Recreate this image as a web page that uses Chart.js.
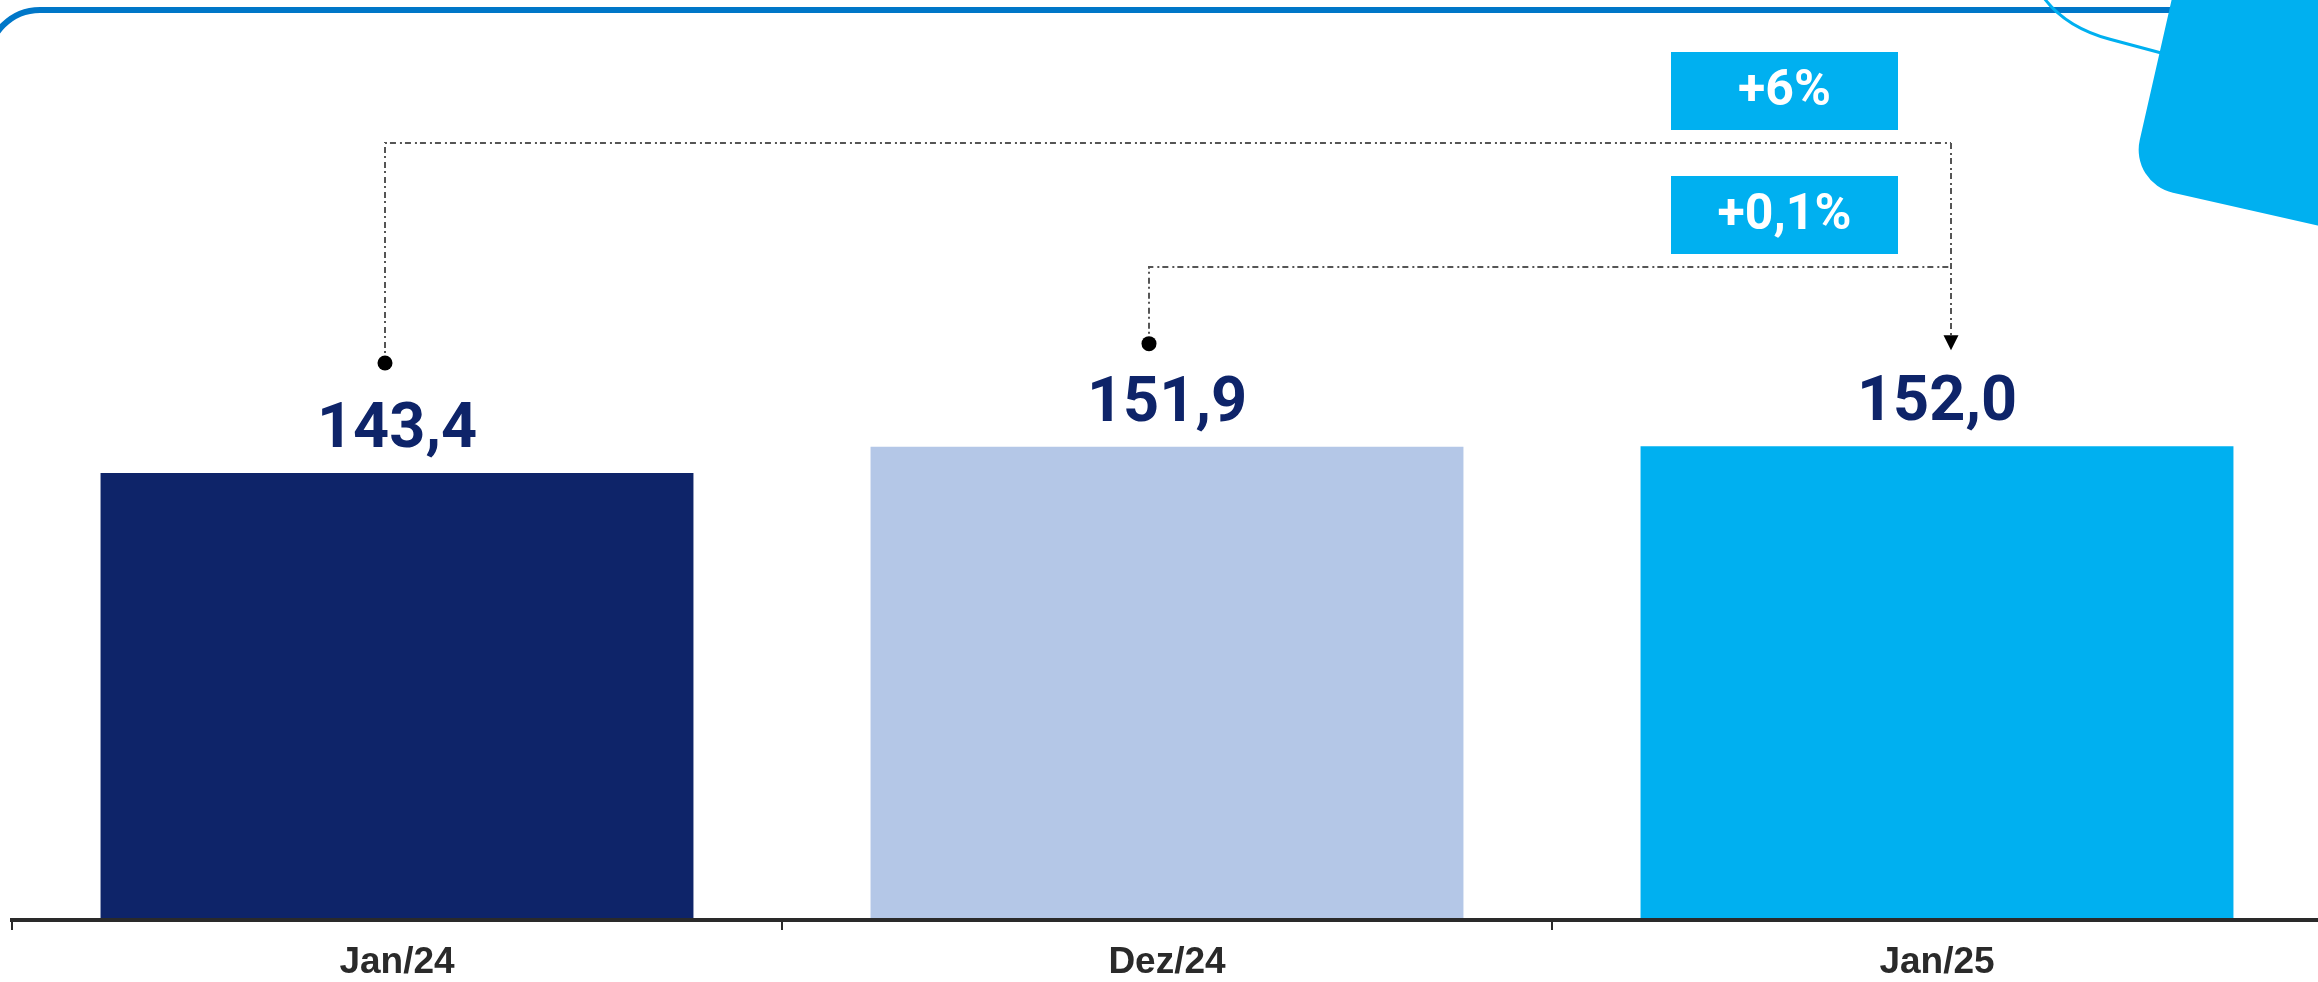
<!DOCTYPE html>
<html><head><meta charset="utf-8">
<script src="https://cdn.jsdelivr.net/npm/chart.js@4.4.1/dist/chart.umd.min.js"></script>
<style>
html,body{margin:0;padding:0;background:#fff;overflow:hidden;width:2318px;height:982px}
#wrap{position:relative;width:2322px;height:982px}
</style></head>
<body><div id="wrap"><canvas id="c"></canvas></div>
<script>
const categories = ['Jan/24', 'Dez/24', 'Jan/25'];
const values = [143.4, 151.9, 152.0];
const barColors = ['#0E2469', '#B4C7E7', '#00B0F0'];
const changeLabels = ['+6%', '+0,1%'];
const comparisonFrom = [0, 1];
const comparisonTo = 2;

const fmt = v => v.toFixed(1).replace('.', ',');

const deco = {
  id: 'deco',
  afterDraw(chart) {
    const ctx = chart.ctx;
    const meta = chart.getDatasetMeta(0);
    const bars = meta.data;
    ctx.save();

    // top frame line with rounded corner
    ctx.strokeStyle = '#0077C8';
    ctx.lineWidth = 6;
    ctx.beginPath();
    ctx.moveTo(-12, 120);
    ctx.arcTo(-12, 10, 40, 10, 52);
    ctx.lineTo(2300, 10);
    ctx.stroke();

    // thin cyan curve
    ctx.strokeStyle = '#00B0F0';
    ctx.lineWidth = 3;
    ctx.beginPath();
    ctx.moveTo(2044, -2);
    ctx.quadraticCurveTo(2066, 27.5, 2110, 39.3);
    ctx.lineTo(2180, 58);
    ctx.stroke();

    // rotated rounded shape top-right
    ctx.save();
    ctx.translate(2130, 183);
    ctx.rotate(12.8 * Math.PI / 180);
    ctx.fillStyle = '#00B0F0';
    ctx.beginPath();
    ctx.roundRect(0, -500, 600, 500, 44);
    ctx.fill();
    ctx.restore();

    // value labels
    ctx.fillStyle = '#0E2469';
    ctx.font = '700 63px Roboto, "Open Sans", sans-serif';
    ctx.textAlign = 'center';
    ctx.textBaseline = 'alphabetic';
    bars.forEach((bar, i) => {
      ctx.fillText(fmt(values[i]), bar.x, bar.y - 26);
    });

    // comparison brackets
    const arrowX = bars[comparisonTo].x + 14;
    const arrowTip = bars[comparisonTo].y - 96;
    const levels = [143, 267];
    const dotDx = [-12, -18];
    const dotDy = [110, 103];
    ctx.strokeStyle = '#555';
    ctx.lineWidth = 2;
    ctx.setLineDash([6, 4, 2, 3]);
    comparisonFrom.forEach((fi, k) => {
      const b = bars[fi];
      const dx = b.x + dotDx[k], dy = b.y - dotDy[k];
      ctx.beginPath();
      ctx.moveTo(dx, dy);
      ctx.lineTo(dx, levels[k]);
      ctx.lineTo(arrowX, levels[k]);
      ctx.stroke();
    });
    ctx.beginPath();
    ctx.moveTo(arrowX, levels[0]);
    ctx.lineTo(arrowX, arrowTip - 14);
    ctx.stroke();
    ctx.setLineDash([]);
    ctx.fillStyle = '#000';
    comparisonFrom.forEach((fi, k) => {
      const b = bars[fi];
      ctx.beginPath();
      ctx.arc(b.x + dotDx[k], b.y - dotDy[k], 7.5, 0, Math.PI * 2);
      ctx.fill();
    });
    ctx.beginPath();
    ctx.moveTo(arrowX - 7.5, arrowTip - 15);
    ctx.lineTo(arrowX + 7.5, arrowTip - 15);
    ctx.lineTo(arrowX, arrowTip);
    ctx.closePath();
    ctx.fill();

    // change boxes
    const boxCx = arrowX - 166.5;
    const boxTops = [52, 176];
    const bw = 227, bh = 78;
    changeLabels.forEach((t, k) => {
      ctx.fillStyle = '#00B0F0';
      ctx.fillRect(boxCx - bw / 2, boxTops[k], bw, bh);
      ctx.fillStyle = '#fff';
      ctx.font = '700 50px Roboto, "Open Sans", sans-serif';
      ctx.textAlign = 'center';
      ctx.textBaseline = 'middle';
      ctx.fillText(t, boxCx, boxTops[k] + bh / 2 + 1);
    });

    ctx.restore();
  }
};

new Chart(document.getElementById('c'), {
  type: 'bar',
  data: {
    labels: categories,
    datasets: [{
      data: values,
      backgroundColor: barColors,
      borderWidth: 0,
      barPercentage: 0.77,
      categoryPercentage: 1
    }]
  },
  options: {
    responsive: true,
    maintainAspectRatio: false,
    animation: false,
    devicePixelRatio: 1,
    layout: { padding: { left: 12, right: 0, top: 0, bottom: 0 } },
    plugins: { legend: { display: false }, tooltip: { enabled: false } },
    scales: {
      x: {
        grid: { display: true, drawOnChartArea: false, drawTicks: true, tickLength: 10, lineWidth: 2, color: '#2a2a2a', offset: true },
        border: { display: true, width: 4, color: '#2a2a2a' },
        ticks: { color: '#2a2a2a', font: { family: '"Liberation Sans", Arial, sans-serif', size: 37, weight: 'bold' }, padding: 11, maxRotation: 0 },
        afterFit(s) { s.height = 62; }
      },
      y: { display: false, min: -0.645, max: 295.85 }
    }
  },
  plugins: [deco]
});
</script>
</body></html>
